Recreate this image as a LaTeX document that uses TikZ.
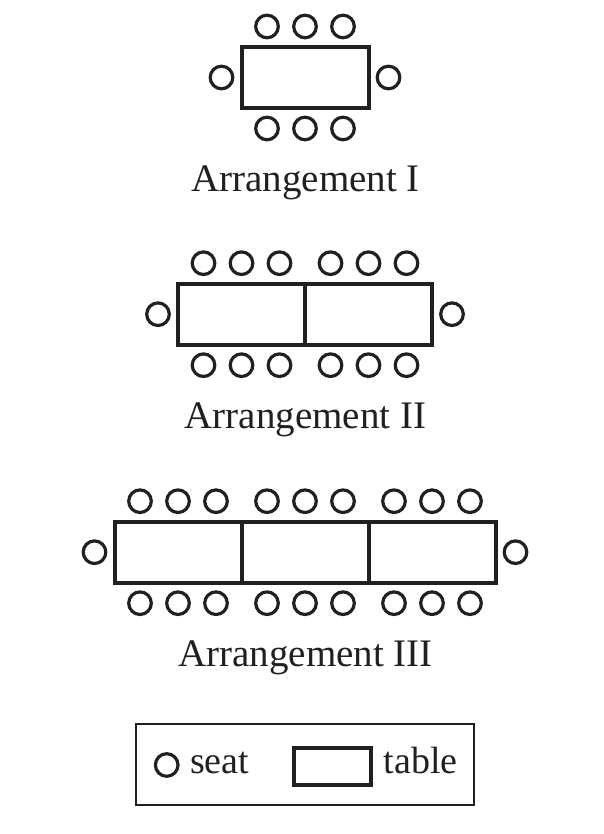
\documentclass[tikz,border=0pt]{standalone}
\usepackage{fontspec}
\setmainfont{Liberation Serif}
\usetikzlibrary{positioning}
\definecolor{ink}{HTML}{231F20}
\tikzset{
  seat/.style={circle,draw=ink,line width=3.2pt,minimum size=22.6pt,inner sep=0pt,outer sep=0pt},
  tablebox/.style={rectangle,draw=ink,line width=4pt,minimum width=127pt,minimum height=61pt,inner sep=0pt,outer sep=0pt},
  caption/.style={text=ink,font=\fontsize{39}{44}\selectfont,anchor=base,inner sep=0pt},
  keytext/.style={text=ink,font=\fontsize{38}{44}\selectfont,anchor=base west,inner sep=0pt},
}
\begin{document}
\begin{tikzpicture}[x=1pt,y=1pt]
            \useasboundingbox (0,0) rectangle (604,834);
            %\draw[help lines,step=50] (0,0) grid (604,834);
            \foreach \row/\ntab/\yc/\rom in {1/1/756.5/I, 2/2/519.8/II, 3/3/281.8/III} {
                \foreach \k in {1,...,\ntab} {
                    \pgfmathsetmacro\xc{305+(\k-(\ntab+1)/2)*127}
                    \node[tablebox] (t\row\k) at (\xc,\yc) {};
                    \foreach \s in {1,2,3} {
                        \node[seat] (top\row\k\s) at ([xshift={(\s-2)*38pt},yshift=51pt]t\row\k.center) {};
                        \node[seat] (bot\row\k\s) at ([xshift={(\s-2)*38pt},yshift=-51pt]t\row\k.center) {};
                    }
                }
                \node[seat] (left\row) at ([xshift=-20pt]t\row1.west) {};
                \node[seat] (right\row) at ([xshift=20pt]t\row\ntab.east) {};
                \node[caption] (cap\row) at (305.5,\yc-114.5) {Arrangement \rom};
            }
            % key
            \node[draw=ink,line width=2pt,minimum width=338pt,minimum height=81pt,inner sep=0pt] (key) at (305,69.5) {};
            \node[seat] (keyseat) at (166.7,69) {};
            \node[keytext] (keyseattext) at (190,60) {seat};
            \node[tablebox,minimum width=77pt,minimum height=37pt] (keytable) at (332.5,67.5) {};
            \node[keytext] (keytabletext) at (383.5,60) {table};
\end{tikzpicture}
\end{document}
